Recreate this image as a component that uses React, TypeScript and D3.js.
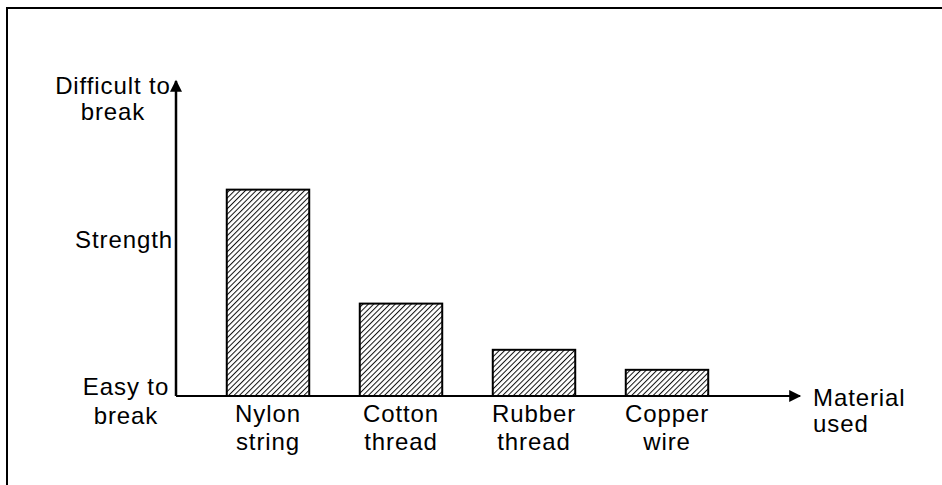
import React from "react";
import * as d3 from "d3";

// chart data
const materials = ["Nylon string", "Cotton thread", "Rubber thread", "Copper wire"];
const strength = [6.7, 3.0, 1.5, 0.85];
const yLabels = [
  { value: 10, lines: ["Difficult to", "break"] },
  { value: 5.05, lines: ["Strength"] },
  { value: 0, lines: ["Easy to", "break"] },
];
const xTitle = ["Material", "used"];

const W = 942;
const H = 485;
const font = "'Liberation Sans', Arial, sans-serif";
const fs = 24;
const ls = 0.9;

// label layout (centre x, baseline offset from value, line gap)
const yLabelLayout = [
  { cx: 113, dy: 6, gap: 26 },
  { cx: 124, dy: 8, gap: 26 },
  { cx: 126, dy: -1, gap: 29 },
];

const App = () => {
  const x = d3.scaleBand<string>()
    .domain(materials)
    .range([201.5, 733.5])
    .paddingInner(0.38)
    .paddingOuter(0.19);
  const y = d3.scaleLinear().domain([0, 10]).range([396, 88]);

  const axisX = 176;
  const baseY = y(0);

  return (
    <svg width={W} height={H} style={{ position: "absolute", left: 0, top: 0, background: "#fff" }}>
      <defs>
        <pattern id="hatch" width="3.8" height="3.8" patternUnits="userSpaceOnUse" patternTransform="rotate(45)">
          <rect width="3.8" height="3.8" fill="#fff" />
          <line x1="0" y1="0" x2="0" y2="3.8" stroke="#111" strokeWidth="2" />
        </pattern>
        <marker id="arrow" viewBox="0 0 10 10" refX="9" refY="5" markerWidth="13" markerHeight="12" markerUnits="userSpaceOnUse" orient="auto">
          <path d="M0,0 L10,5 L0,10 z" fill="#000" />
        </marker>
      </defs>

      {/* scan frame */}
      <path d={`M7,${H} L7,8 L${W},8`} fill="none" stroke="#000" strokeWidth={2} />

      {/* bars */}
      {materials.map((m, i) => (
        <rect key={m}
          x={x(m)} y={y(strength[i])}
          width={x.bandwidth()} height={baseY - y(strength[i])}
          fill="url(#hatch)" stroke="#000" strokeWidth={2} />
      ))}

      {/* axes */}
      <line x1={axisX} y1={baseY} x2={axisX} y2={y(10) - 7} stroke="#000" strokeWidth={2.5} markerEnd="url(#arrow)" />
      <line x1={axisX} y1={baseY} x2={800} y2={baseY} stroke="#000" strokeWidth={1.8} markerEnd="url(#arrow)" />

      {/* y labels */}
      {yLabels.map((l, i) => {
        const lay = yLabelLayout[i];
        return (
          <text key={i} y={y(l.value) + lay.dy} textAnchor="middle"
            fontFamily={font} fontSize={fs} letterSpacing={ls} fill="#000">
            {l.lines.map((t, j) => (
              <tspan key={j} x={lay.cx} dy={j === 0 ? 0 : lay.gap}>{t}</tspan>
            ))}
          </text>
        );
      })}

      {/* category labels */}
      {materials.map((m) => {
        const parts = m.split(" ");
        const cx = (x(m) as number) + x.bandwidth() / 2;
        return (
          <text key={m} x={cx} y={baseY + 26} textAnchor="middle" fontFamily={font} fontSize={fs} letterSpacing={ls} fill="#000">
            {parts.map((t, j) => (
              <tspan key={j} x={cx} dy={j === 0 ? 0 : 28}>{t}</tspan>
            ))}
          </text>
        );
      })}

      {/* x title */}
      <text x={813} y={baseY + 10} fontFamily={font} fontSize={fs} letterSpacing={ls} fill="#000">
        {xTitle.map((t, j) => (
          <tspan key={j} x={813} dy={j === 0 ? 0 : 26}>{t}</tspan>
        ))}
      </text>
    </svg>
  );
};

export default App;
